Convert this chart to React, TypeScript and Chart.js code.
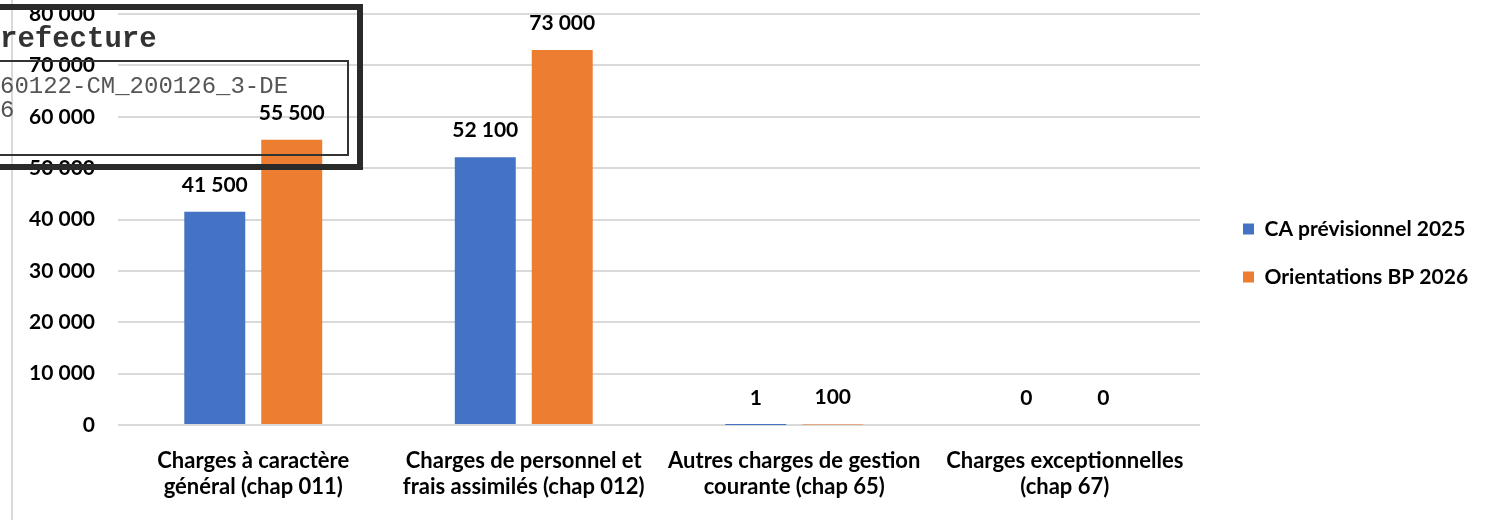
import React, { useEffect, useRef } from "react";
import { Chart, registerables } from "chart.js";

Chart.register(...registerables);

const categories: string[][] = [
  ["Charges à caractère", "général (chap 011)"],
  ["Charges de personnel et", "frais assimilés (chap 012)"],
  ["Autres charges de gestion", "courante (chap 65)"],
  ["Charges exceptionnelles", "(chap 67)"],
];
const seriesNames = ["CA prévisionnel 2025", "Orientations BP 2026"];
const caPrevisionnel2025 = [41500, 52100, 1, 0];
const orientationsBP2026 = [55500, 73000, 100, 0];
const seriesColors = ["#4472C4", "#ED7D31"];
const yMin = 0;
const yMax = 80000;
const yStep = 10000;

const FONT = "Lato";
const FS = 21;
const XFS = 22;

const fmt = (v: number) => String(v).replace(/\B(?=(\d{3})+(?!\d))/g, " ");

export default function App() {
  const ref = useRef<HTMLCanvasElement | null>(null);

  useEffect(() => {
    const canvas = ref.current!;
    const W = 1498;
    const areaRight = 1200;
    const legendPad = 27;
    const boxW = 11;
    const mctx = canvas.getContext("2d")!;
    mctx.font = `bold ${FS}px ${FONT}`;
    const tw = Math.max(...seriesNames.map((s) => mctx.measureText(s).width));
    const legendWidth = legendPad + boxW + FS / 2 + tw + 10;
    const padRight = W - areaRight - legendWidth;

    const valueLabels = {
      id: "valueLabels",
      afterDatasetsDraw(chart: any) {
        const ctx = chart.ctx;
        ctx.save();
        ctx.font = `bold ${FS}px ${FONT}`;
        ctx.fillStyle = "#000";
        ctx.textAlign = "center";
        ctx.textBaseline = "middle";
        chart.data.datasets.forEach((ds: any, i: number) => {
          const meta = chart.getDatasetMeta(i);
          meta.data.forEach((bar: any, j: number) => {
            ctx.fillText(fmt(ds.data[j]), bar.x, bar.y - 27);
          });
        });
        ctx.restore();
      },
    };

    const legendShift = {
      id: "legendShift",
      afterLayout(chart: any) {
        const lg = chart.legend;
        if (!lg) return;
        const w = lg.width;
        lg.left = 1243 - legendPad;
        lg.right = lg.left + w;
        lg.top -= 14;
        lg.bottom -= 14;
      },
    };

    const chart = new Chart(canvas, {
      type: "bar",
      data: {
        labels: categories,
        datasets: [
          {
            label: seriesNames[0],
            data: caPrevisionnel2025,
            backgroundColor: seriesColors[0],
            categoryPercentage: 0.569,
            barPercentage: 0.792,
          },
          {
            label: seriesNames[1],
            data: orientationsBP2026,
            backgroundColor: seriesColors[1],
            categoryPercentage: 0.569,
            barPercentage: 0.792,
          },
        ],
      },
      options: {
        responsive: false,
        animation: false,
        devicePixelRatio: 1,
        layout: { padding: { top: 14, right: padRight, bottom: 0, left: 0 } },
        plugins: {
          tooltip: { enabled: false },
          legend: {
            position: "right",
            labels: {
              boxWidth: boxW,
              boxHeight: boxW,
              padding: legendPad,
              color: "#000",
              font: { family: FONT, size: FS, weight: "bold" },
            },
          },
        },
        scales: {
          x: {
            grid: { display: false },
            border: { display: false },
            ticks: {
              color: "#000",
              padding: 15,
              autoSkip: false,
              maxRotation: 0,
              font: { family: FONT, size: XFS, weight: "bold", lineHeight: 26 / XFS },
            },
            afterFit(scale: any) {
              scale.height = 95;
              scale.paddingLeft = 0;
              scale.paddingRight = 0;
            },
          },
          y: {
            min: yMin,
            max: yMax,
            grid: { color: "#d9d9d9", lineWidth: 2, drawTicks: false },
            border: { display: false },
            ticks: {
              stepSize: yStep,
              color: "#000",
              padding: 23,
              font: { family: FONT, size: FS, weight: "bold" },
              callback: (v: any) => fmt(Number(v)),
            },
            afterFit(scale: any) {
              scale.width = 118;
              scale.paddingTop = 0;
              scale.paddingBottom = 0;
            },
          },
        },
      },
      plugins: [valueLabels, legendShift],
    });
    return () => chart.destroy();
  }, []);

  const mono = '"Liberation Mono", "DejaVu Sans Mono", monospace';

  return (
    <div
      style={{
        position: "absolute",
        left: 0,
        top: 0,
        width: 1498,
        height: 520,
        overflow: "hidden",
        background: "#fff",
      }}
    >
      <canvas ref={ref} width={1498} height={520} style={{ display: "block" }} />
      <div style={{ position: "absolute", left: 11, top: 0, width: 2, height: 520, background: "#d9d9d9" }} />
      <div
        style={{
          position: "absolute",
          left: -10,
          top: 4,
          width: 373,
          height: 166,
          border: "6px solid #2a2a2a",
          boxSizing: "border-box",
        }}
      />
      <div
        style={{
          position: "absolute",
          left: -10,
          top: 60,
          width: 359,
          height: 96,
          border: "2px solid #333",
          boxSizing: "border-box",
        }}
      />
      <div
        style={{
          position: "absolute",
          left: -17.4,
          top: 25,
          fontFamily: mono,
          fontSize: 29,
          lineHeight: "29px",
          fontWeight: "bold",
          color: "#333",
          whiteSpace: "pre",
        }}
      >
        Prefecture
      </div>
      <div
        style={{
          position: "absolute",
          left: 0,
          top: 75,
          fontFamily: mono,
          fontSize: 24,
          lineHeight: "24px",
          color: "#555",
          whiteSpace: "pre",
        }}
      >
        {"60122-CM_200126_3-DE\n6"}
      </div>
    </div>
  );
}
